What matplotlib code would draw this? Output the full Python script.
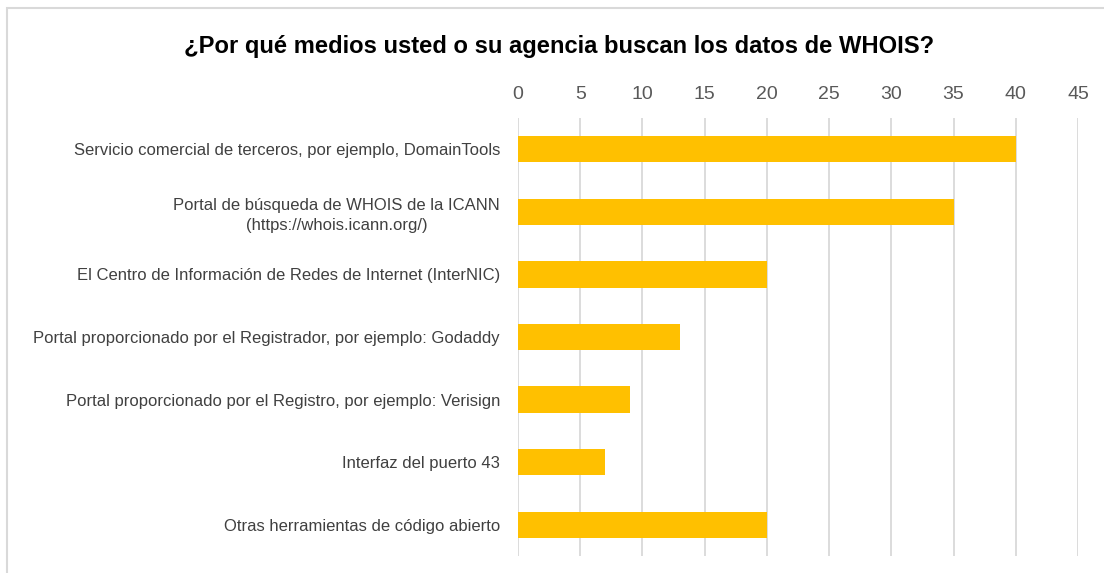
import matplotlib
matplotlib.use("Agg")
import matplotlib.pyplot as plt
from matplotlib.patches import Rectangle

# Datos
categorias = [
    "Servicio comercial de terceros, por ejemplo, DomainTools",
    "Portal de búsqueda de WHOIS de la ICANN\n(https://whois.icann.org/)",
    "El Centro de Información de Redes de Internet (InterNIC)",
    "Portal proporcionado por el Registrador, por ejemplo: Godaddy",
    "Portal proporcionado por el Registro, por ejemplo: Verisign",
    "Interfaz del puerto 43",
    "Otras herramientas de código abierto",
]
valores = [40, 35, 20, 13, 9, 7, 20]
ticks_x = list(range(0, 50, 5))

TITULO = "¿Por qué medios usted o su agencia buscan los datos de WHOIS?"
BARRA = "#ffc000"
GRIS = "#d9d9d9"
TEXTO = "#404040"

plt.rcParams["font.family"] = ["Liberation Sans", "DejaVu Sans"]

W, H = 1104, 573
fig = plt.figure(figsize=(W / 100, H / 100), dpi=100)

# marco del área del gráfico
fig.add_artist(Rectangle((7 / W, -0.1), 1.2, 1.1 - 8 / H, transform=fig.transFigure,
                         facecolor="none", edgecolor=GRIS, linewidth=1.5))

ax = fig.add_axes([518 / W, 1 - 556 / H, (1078 - 518) / W, (556 - 118) / H])
pos = list(range(len(categorias)))
ax.barh(pos, valores, height=0.42, color=BARRA, zorder=3)

ax.set_xlim(0, 45)
ax.set_ylim(len(categorias) - 0.5, -0.5)
ax.set_xticks(ticks_x)
ax.set_yticks(pos)
ax.set_yticklabels(categorias, fontsize=12, color=TEXTO, linespacing=1.4)
ax.xaxis.tick_top()
ax.tick_params(axis="x", length=0, pad=11, labelsize=14, labelcolor="#595959")
ax.tick_params(axis="y", length=0, pad=13)
for lbl in ax.get_yticklabels():
    lbl.set_horizontalalignment("right")
    lbl.set_multialignment("center")

ax.grid(axis="x", color=GRIS, linewidth=1.3, zorder=0)
for s in ax.spines.values():
    s.set_visible(False)

fig.text(0.506, 1 - 46 / H, TITULO, ha="center", va="center",
         fontsize=17.1, fontweight="bold", color="black")

fig.savefig("out.png", dpi=100)
